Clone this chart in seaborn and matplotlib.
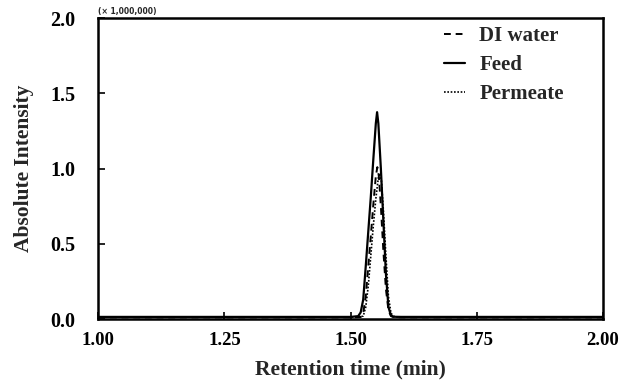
import matplotlib
matplotlib.use("Agg")
import matplotlib.pyplot as plt
import seaborn as sns
import pandas as pd

# retention time (min) and intensity (x 1,000,000)
di_time = [1.000, 1.500, 1.520, 1.525, 1.530, 1.535, 1.540, 1.545, 1.550, 1.553,
           1.556, 1.560, 1.565, 1.570, 1.575, 1.580, 1.585, 1.600, 2.000]
di_int = [0.012, 0.012, 0.014, 0.04, 0.15, 0.35, 0.55, 0.76, 0.95, 1.01,
          0.95, 0.75, 0.45, 0.20, 0.06, 0.02, 0.014, 0.012, 0.012]

feed_time = [1.000, 1.500, 1.515, 1.520, 1.525, 1.530, 1.535, 1.540, 1.545, 1.550,
             1.5525, 1.555, 1.560, 1.565, 1.570, 1.575, 1.580, 1.585, 1.600, 2.000]
feed_int = [0.015, 0.015, 0.02, 0.045, 0.13, 0.35, 0.58, 0.81, 1.06, 1.30,
            1.375, 1.30, 1.00, 0.65, 0.30, 0.08, 0.025, 0.016, 0.015, 0.015]

perm_time = [1.000, 1.500, 1.525, 1.530, 1.535, 1.540, 1.545, 1.550, 1.555, 1.558,
             1.561, 1.565, 1.570, 1.575, 1.580, 1.585, 1.590, 1.600, 2.000]
perm_int = [0.013, 0.013, 0.02, 0.08, 0.22, 0.42, 0.62, 0.80, 0.94, 0.97,
            0.92, 0.72, 0.42, 0.15, 0.04, 0.02, 0.014, 0.013, 0.013]

sns.set_theme(style="white")
plt.rcParams["font.family"] = ["Liberation Serif", "DejaVu Serif"]
plt.rcParams["font.weight"] = "bold"

fig = plt.figure(figsize=(6.3, 3.85), dpi=100)
ax = fig.add_axes([0.156, 0.171, 0.801, 0.782])

sns.lineplot(x=di_time, y=di_int, ax=ax, color="black", lw=1.4,
             linestyle=(0, (3.5, 2.5)), label="DI water")
sns.lineplot(x=feed_time, y=feed_int, ax=ax, color="black", lw=1.6,
             linestyle="-", label="Feed")
sns.lineplot(x=perm_time, y=perm_int, ax=ax, color="black", lw=1.2,
             linestyle=(0, (1, 1)), label="Permeate")

ax.set_xlim(1.0, 2.0)
ax.set_ylim(0.0, 2.0)
ax.set_xticks([1.0, 1.25, 1.5, 1.75, 2.0])
ax.set_xticklabels(["1.00", "1.25", "1.50", "1.75", "2.00"])
ax.set_yticks([0.0, 0.5, 1.0, 1.5, 2.0])
ax.set_yticklabels(["0.0", "0.5", "1.0", "1.5", "2.0"])
ax.tick_params(axis="both", direction="in", length=5, width=1.2,
               colors="black", bottom=True, left=True)
ax.tick_params(axis="x", labelsize=13.5, pad=9)
ax.tick_params(axis="y", labelsize=14.5, pad=16.5)
for lab in ax.get_xticklabels() + ax.get_yticklabels():
    lab.set_fontweight("bold")
for sp in ax.spines.values():
    sp.set_visible(True)
    sp.set_color("black")
    sp.set_linewidth(1.8)

ax.set_xlabel("Retention time (min)", fontsize=15.5, fontweight="bold", labelpad=8)
ax.set_ylabel("Absolute Intensity", fontsize=15.5, fontweight="bold", labelpad=12)

ax.text(0.0, 1.008, "(× 1,000,000)", transform=ax.transAxes, fontsize=5.5,
        fontweight="bold", family="DejaVu Sans", va="bottom", ha="left")

leg = ax.legend(loc="upper right", frameon=False, fontsize=15, handlelength=1.0,
                handletextpad=0.7, labelspacing=0.42, bbox_to_anchor=(0.96, 1.035))
for t in leg.get_texts():
    t.set_fontweight("bold")

fig.savefig("out.png", dpi=100)
